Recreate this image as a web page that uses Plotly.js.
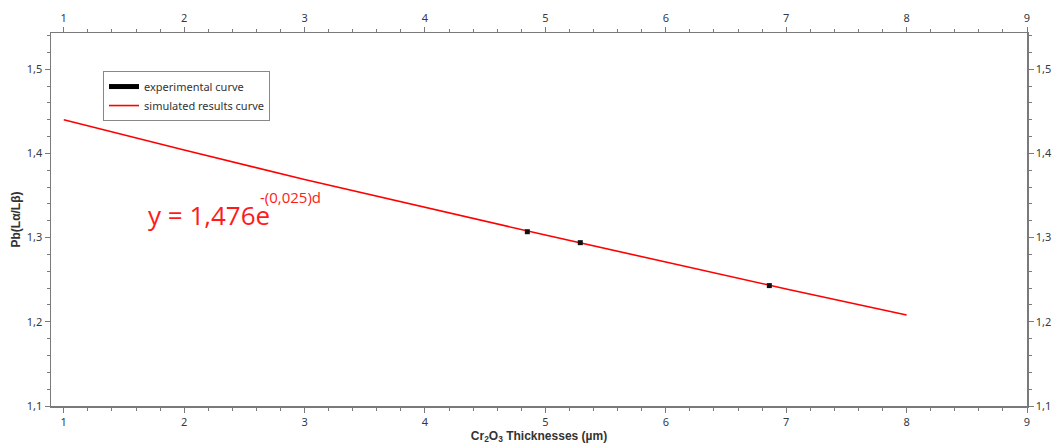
<!DOCTYPE html>
<html>
<head>
<meta charset="utf-8">
<script src="https://cdn.plot.ly/plotly-3.0.1.min.js"></script>
<style>html,body{margin:0;padding:0;background:#fff;}#chart{width:1060px;height:448px;}</style>
</head>
<body>
<div id="chart"></div>
<script>
// Experimental measurements
const expThickness = [4.85, 5.29, 6.86];
const expRatio = [1.307, 1.294, 1.243];
// Simulated results curve
const simThickness = [1, 2, 3, 4, 5, 6, 7, 8];
const simRatio = [1.440, 1.404, 1.369, 1.336, 1.303, 1.271, 1.239, 1.208];
const xTicks = [1, 2, 3, 4, 5, 6, 7, 8, 9];
const yTicks = [1.1, 1.2, 1.3, 1.4, 1.5];
const seriesNames = ['experimental curve', 'simulated results curve'];

const xRange = [0.894, 9];
const yRange = [1.1, 1.543];
const tickFont = {family: 'Noto Sans, DejaVu Sans, sans-serif', size: 11, color: '#333a44'};
const titleFont = {family: 'Liberation Sans, Arial, sans-serif', size: 12, color: '#333', weight: 'bold'};
const axisLine = '#7a7a7a';

const commonX = {
  range: xRange, tickvals: xTicks, ticktext: xTicks.map(String),
  showgrid: false, zeroline: false, showline: true, linecolor: axisLine, linewidth: 1.5,
  ticks: 'outside', ticklen: 5, tickcolor: axisLine, tickwidth: 1,
  minor: {dtick: 0.2, ticks: 'outside', ticklen: 3, tickcolor: axisLine, tickwidth: 1, tick0: 1},
  tickfont: tickFont
};
const commonY = {
  range: yRange, tickvals: yTicks, ticktext: yTicks.map(v => v.toFixed(1).replace('.', ',')),
  showgrid: false, zeroline: false, showline: true, linecolor: axisLine, linewidth: 1.5,
  ticks: 'outside', ticklen: 5, tickcolor: axisLine, tickwidth: 1,
  minor: {dtick: 0.02, ticks: 'outside', ticklen: 3, tickcolor: axisLine, tickwidth: 1, tick0: 1.1},
  tickfont: tickFont
};

const data = [
  {x: [null], y: [null], mode: 'lines', name: seriesNames[0], line: {color: '#000', width: 5},
   xaxis: 'x2', yaxis: 'y2', hoverinfo: 'skip'},
  {x: simThickness, y: simRatio, mode: 'lines', name: seriesNames[1], line: {color: '#ff0000', width: 1.6}},
  {x: expThickness, y: expRatio, mode: 'markers', name: seriesNames[0], showlegend: false,
   marker: {symbol: 'square', size: 5, color: '#111'}}
];

const layout = {
  width: 1060, height: 448,
  margin: {l: 51, r: 33, t: 33, b: 42},
  paper_bgcolor: '#fff', plot_bgcolor: '#fff',
  font: {family: 'Noto Sans, DejaVu Sans, sans-serif', color: '#333'},
  xaxis: Object.assign({}, commonX, {side: 'bottom',
    title: {text: 'Cr<sub>2</sub>O<sub>3</sub> Thicknesses (µm)', font: titleFont, standoff: 3}}),
  xaxis2: Object.assign({}, commonX, {side: 'top', overlaying: 'x'}),
  yaxis: Object.assign({}, commonY, {side: 'left',
    title: {text: 'Pb(Lα/Lβ)', font: titleFont, standoff: 3}}),
  yaxis2: Object.assign({}, commonY, {side: 'right', overlaying: 'y'}),
  showlegend: true,
  legend: {x: 0.0533, y: 0.898, xanchor: 'left', yanchor: 'top',
    bgcolor: '#fff', bordercolor: '#888', borderwidth: 1,
    font: {size: 11, color: '#333'}, tracegroupgap: 0, itemwidth: 30},
  annotations: [
    {xref: 'x', yref: 'y', x: 1.68, y: 1.3267, xanchor: 'left', yanchor: 'middle', showarrow: false,
     text: 'y = 1,476e', font: {family: 'Open Sans, Noto Sans, sans-serif', size: 26, color: '#ff1a1a'}},
    {xref: 'x', yref: 'y', x: 2.61, y: 1.348, xanchor: 'left', yanchor: 'middle', showarrow: false,
     text: '-(0,025)d', font: {family: 'Open Sans, Noto Sans, sans-serif', size: 15, color: '#ff1a1a'}}
  ]
};

Plotly.newPlot('chart', data, layout, {displayModeBar: false, staticPlot: true});
</script>
</body>
</html>
